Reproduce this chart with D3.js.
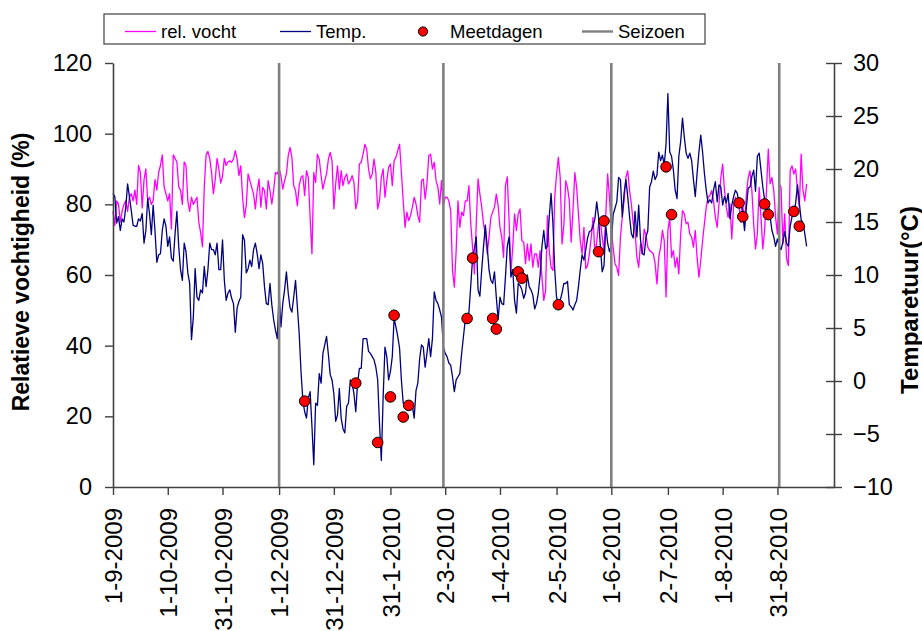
<!DOCTYPE html>
<html>
<head>
<meta charset="utf-8">
<script src="https://cdn.jsdelivr.net/npm/d3@7"></script>
<style>
  body { margin: 0; background: #fff; }
  svg { display: block; }
  text { font-family: "Liberation Sans", Arial, sans-serif; fill: #000; }
</style>
</head>
<body>
<svg id="chart" width="922" height="631"></svg>
<script>
// Daily series start on this date (one value per day)
const startDate = "2009-09-01";

// Relative humidity (%), daily
const relVocht = [
  78,74,81,80,75,78,80,81,78,82,83,81,84,80,91,89,79,87,90,81,
  82,80,81,87,84,89,91,94,85,83,81,83,73,94,93,92,85,84,80,92,
  91,81,78,82,80,81,82,75,72,68,85,94,95,93,89,83,87,93,90,86,
  88,93,91,92,
  92.3,91.9,92.8,95.2,92.8,88.1,90.9,82.0,76.3,79.6,88.6,86.7,84.8,82.9,78.7,83.9,87.2,79.2,84.8,83.9,
  78.7,86.7,83.9,80.1,83.9,89.0,88.6,90.0,88.1,84.3,86.7,88.6,93.8,96.1,93.3,85.3,83.9,79.6,85.3,87.6,
  88.1,82.5,89.5,87.6,76.3,66.0,89.0,86.2,94.2,92.8,88.1,84.3,86.7,88.6,92.8,94.7,92.3,78.7,85.8,90.9,
  84.3,89.5,85.3,87.6,88.6,85.8,
  86.7,88.1,86.2,78.7,81.0,91.4,91.9,94.2,97.0,95.6,90.0,87.2,88.6,92.8,89.0,78.7,81.0,87.6,90.0,82.0,
  86.7,90.5,91.4,85.3,92.3,93.3,95.2,97.0,89.0,81.0,73.5,77.8,75.4,76.8,79.2,82.0,80.1,76.8,74.9,86.7,
  87.2,81.5,85.8,93.8,94.2,90.0,91.9,86.7,84.8,80.1,86.7,79.6,82.0,82.0,81.0,78.2,61.3,56.6,66.9,81.0,
  73.5,77.8,76.8,81.0,81.0,85.3,
  74.5,67.9,60.3,74.5,87.2,82.9,79.2,74.5,71.6,66.0,70.7,76.3,77.8,79.2,82.9,79.6,73.5,70.7,65.0,85.3,
  87.8,75.4,60.8,67.9,77.3,72.6,77.3,78.7,69.7,69.3,63.2,68.8,64.1,68.8,62.2,66.0,66.0,62.2,66.9,59.4,
  52.8,55.6,76.8,66.9,62.2,61.3,82.0,88.6,93.3,87.6,68.8,74.0,86.7,84.8,81.0,69.3,78.2,89.0,84.8,77.3,
  69.7,66.0,73.5,61.8,62.7,66.0,
  70.7,76.3,66.0,69.3,74.5,75.4,70.7,66.9,77.3,88.6,82.0,72.6,67.9,63.2,62.2,59.9,70.7,76.3,81.0,87.6,
  89.5,83.9,80.1,74.5,72.6,65.0,62.2,68.8,66.0,73.0,71.2,67.9,66.9,66.5,66.0,63.2,57.5,65.0,67.9,72.6,
  69.7,53.8,72.6,76.3,65.0,66.9,62.2,65.0,60.3,71.6,78.2,77.3,74.5,74.9,71.6,70.7,67.9,72.6,65.0,59.4,
  64.1,69.7,74.5,79.2,82.0,82.5,
  83.9,81.0,76.3,73.5,80.1,87.6,91.4,83.9,79.2,76.3,80.1,70.2,79.6,82.0,81.0,79.6,74.9,80.1,74.5,82.9,
  87.6,89.5,83.9,74.5,67.4,71.6,84.8,76.3,67.4,72.6,83.9,95.6,85.8,87.6,83.9,76.3,71.6,85.8,84.8,68.8,
  77.3,64.6,62.7,89.5,90.9,88.6,90.0,83.9,79.2,94.2,83.9,81.0,85.8
];

// Temperature (°C), daily
const temp = [
  17.7,17.4,14.9,15.5,14.2,15.3,15.0,16.4,18.6,17.4,16.1,14.7,14.6,14.6,15.3,15.1,15.8,13.0,14.2,17.2,
  15.8,13.8,16.6,14.2,11.2,11.9,12.0,14.2,15.3,14.6,12.7,13.6,11.6,11.3,13.9,16.0,12.7,10.5,9.5,13.0,
  12.2,10.2,9.2,3.9,6.0,10.6,7.9,7.6,8.6,8.3,10.8,8.9,10.5,13.0,12.4,12.4,11.9,13.0,10.5,10.5,
  13.3,9.5,7.6,8.3,
  8.6,7.8,7.3,4.6,6.9,7.5,7.9,13.8,13.3,10.2,10.6,11.4,10.8,12.4,13.0,12.0,10.6,11.9,11.1,8.9,
  7.3,7.2,9.2,7.2,5.8,4.8,4.0,8.3,5.1,7.3,8.6,10.3,8.3,6.9,6.5,7.9,9.5,7.0,4.5,0.9,
  -1.8,-2.9,-3.5,-1.6,-1.0,-4.3,-7.9,-2.1,-2.3,0.7,-0.2,2.6,3.4,4.2,2.5,0.6,0.1,-1.2,-3.8,-3.2,
  -0.7,-3.5,-4.5,-4.9,-2.4,
  -2.1,0.1,-0.2,-1.2,-2.9,-0.2,1.2,1.2,4.0,4.0,4.0,2.8,2.6,2.3,2.0,1.3,0.1,-4.0,-7.5,-1.5,
  3.2,2.3,0.1,0.9,2.3,5.9,5.1,4.2,3.1,0.1,-2.1,-2.3,-1.9,-2.3,-2.0,-2.3,-3.5,-0.9,-0.2,2.1,
  3.4,3.2,1.3,2.6,4.0,2.3,4.0,8.4,7.6,7.3,6.7,6.0,3.2,2.6,2.3,1.7,1.5,0.4,-1.0,0.1,
  0.4,0.7,2.6,4.2,5.8,5.9,6.5,9.0,11.6,12.5,13.6,
  8.6,8.0,10.5,12.7,14.7,12.7,10.5,9.5,
  9.2,10.3,7.9,5.8,7.9,7.3,7.2,9.8,12.7,13.6,9.8,10.5,7.6,6.4,9.2,9.0,8.6,7.8,8.3,10.0,
  8.9,8.6,8.1,6.8,7.3,8.3,10.0,12.7,14.2,12.5,12.7,15.5,17.7,14.9,10.5,7.9,7.3,7.6,8.3,9.2,
  9.2,9.4,7.2,7.0,6.7,7.2,7.6,8.9,10.5,11.9,11.4,12.4,13.5,14.1,
  14.2,
  14.6,15.3,16.9,15.5,12.7,10.3,10.9,14.6,13.0,12.2,12.8,15.7,16.3,16.9,19.2,19.0,15.5,17.7,19.0,17.4,
  15.5,13.9,13.5,16.0,13.6,16.6,13.3,12.0,11.9,13.6,14.2,18.3,18.8,19.8,19.0,19.4,21.6,20.8,21.3,20.4,
  22.4,27.1,21.6,21.2,19.9,18.0,17.2,21.2,22.6,24.8,23.0,21.5,21.0,21.5,20.8,19.0,17.4,19.6,21.6,23.2,
  21.6,19.6,18.0,16.8,17.1,
  16.8,18.0,18.8,16.9,18.5,18.3,16.6,17.4,16.8,17.7,15.3,16.6,17.4,18.0,17.7,16.8,17.1,15.8,14.2,16.4,
  18.2,18.3,19.3,19.9,17.9,21.2,21.5,19.9,18.3,17.1,16.4,16.8,15.5,14.2,13.6,12.7,13.4,12.7,12.4,13.1,
  14.1,13.0,12.7,14.6,15.5,15.8,16.8,18.5,16.8,15.2,14.9,13.9,12.7
];

// Measurement days and the temperature measured on them
const meetDates = [
  "2009-12-15","2010-01-12","2010-01-24","2010-01-31","2010-02-02","2010-02-07","2010-02-10",
  "2010-03-14","2010-03-17","2010-03-28","2010-03-30","2010-04-11","2010-04-13","2010-05-03",
  "2010-05-25","2010-05-28","2010-07-01","2010-07-04","2010-08-10","2010-08-12","2010-08-24",
  "2010-08-26","2010-09-09","2010-09-12"
];
const meetTemps = [
  -1.9,-0.2,-5.8,-1.5,6.2,-3.4,-2.3,
  5.9,11.6,5.9,4.9,10.3,9.7,7.2,
  12.2,15.1,20.2,15.7,16.8,15.5,16.7,
  15.7,16.0,14.6
];

// Season boundaries
const seizoenDates = ["2009-12-01","2010-03-01","2010-06-01","2010-09-01"];

// Axis ticks
const xTickLabels = ["1-9-2009","1-10-2009","31-10-2009","1-12-2009","31-12-2009","31-1-2010",
  "2-3-2010","1-4-2010","2-5-2010","1-6-2010","2-7-2010","1-8-2010","31-8-2010"];
const rhTicks = [0, 20, 40, 60, 80, 100, 120];
const tempTicks = [-10, -5, 0, 5, 10, 15, 20, 25, 30];
const legendLabels = ["rel. vocht", "Temp.", "Meetdagen", "Seizoen"];

const colors = { rh: "#ff00ff", temp: "#000080", dot: "#ff0000", season: "#808080", axis: "#404040" };

const svg = d3.select("#chart");
const plot = { left: 113, right: 834, top: 63, bottom: 487 };

const parseISO = d3.timeParse("%Y-%m-%d");
const parseLabel = d3.timeParse("%d-%m-%Y");
const t0 = parseISO(startDate);
const dayAt = i => d3.timeDay.offset(t0, i);

const x = d3.scaleTime().domain([t0, d3.timeDay.offset(t0, 395)]).range([plot.left, plot.right]);
const yL = d3.scaleLinear().domain([0, 120]).range([plot.bottom, plot.top]);
const yR = d3.scaleLinear().domain([-10, 30]).range([plot.bottom, plot.top]);

svg.append("rect").attr("width", 922).attr("height", 631).attr("fill", "#fff");

// Series lines
const rhLine = d3.line().x((d, i) => x(dayAt(i))).y(d => yL(d));
const tLine = d3.line().x((d, i) => x(dayAt(i))).y(d => yR(d));

svg.append("path").datum(relVocht).attr("d", rhLine)
  .attr("fill", "none").attr("stroke", colors.rh).attr("stroke-width", 1.3).attr("stroke-linejoin", "round");
svg.append("path").datum(temp).attr("d", tLine)
  .attr("fill", "none").attr("stroke", colors.temp).attr("stroke-width", 1.3).attr("stroke-linejoin", "round");

// Season boundary lines
svg.append("g").selectAll("line").data(seizoenDates.map(parseISO)).join("line")
  .attr("x1", d => x(d)).attr("x2", d => x(d))
  .attr("y1", plot.top).attr("y2", plot.bottom)
  .attr("stroke", colors.season).attr("stroke-width", 2.6);

// Axes
const gL = svg.append("g").attr("transform", `translate(${plot.left},0)`)
  .call(d3.axisLeft(yL).tickValues(rhTicks).tickSize(8).tickSizeOuter(0).tickPadding(13));
const gR = svg.append("g").attr("transform", `translate(${plot.right},0)`)
  .call(d3.axisRight(yR).tickValues(tempTicks).tickSize(8).tickSizeOuter(0).tickPadding(11));
gR.selectAll(".tick line").attr("x1", -8).attr("x2", 8);

const labelDates = xTickLabels.map(parseLabel);
const gB = svg.append("g").attr("transform", `translate(0,${plot.bottom})`)
  .call(d3.axisBottom(x).tickValues(labelDates).tickSize(8).tickSizeOuter(0)
    .tickFormat((d, i) => xTickLabels[i]));
gB.selectAll(".tick text")
  .attr("transform", "rotate(-90)")
  .attr("x", -21).attr("y", 0).attr("dy", "0.36em")
  .attr("text-anchor", "end");

[[gL, 23.5], [gR, 23.5], [gB, 24]].forEach(([g, size]) => {
  g.select(".domain").attr("stroke", colors.axis).attr("stroke-width", 1.6);
  g.selectAll(".tick line").attr("stroke", colors.axis).attr("stroke-width", 1.4);
  g.selectAll(".tick text").attr("font-size", size)
    .attr("font-family", '"Liberation Sans", Arial, sans-serif').attr("fill", "#000");
});

// Measurement day markers
svg.append("g").selectAll("circle").data(meetDates.map((d, i) => ({ date: parseISO(d), t: meetTemps[i] })))
  .join("circle")
  .attr("cx", d => x(d.date)).attr("cy", d => yR(d.t)).attr("r", 5.3)
  .attr("fill", colors.dot).attr("stroke", "#000").attr("stroke-width", 1);

// Axis titles
svg.append("text")
  .attr("transform", "translate(29,272) rotate(-90)")
  .attr("text-anchor", "middle").attr("font-size", 23).attr("font-weight", "bold")
  .text("Relatieve vochtigheid (%)");
svg.append("text")
  .attr("transform", "translate(918,300) rotate(-90)")
  .attr("text-anchor", "middle").attr("font-size", 24).attr("font-weight", "bold")
  .text("Temparetuur(°C)");

// Legend
const lg = svg.append("g");
lg.append("rect").attr("x", 104).attr("y", 14).attr("width", 601).attr("height", 30)
  .attr("fill", "#fff").attr("stroke", colors.axis).attr("stroke-width", 1.2);
const legendX = [125, 280, 409, 582];
const legendKinds = ["rh", "temp", "dot", "season"];
legendLabels.forEach((label, i) => {
  const lx = legendX[i], ly = 31.5;
  const kind = legendKinds[i];
  if (kind === "dot") {
    lg.append("circle").attr("cx", lx + 14).attr("cy", ly).attr("r", 4.6)
      .attr("fill", colors.dot).attr("stroke", "#000").attr("stroke-width", 1);
  } else {
    lg.append("line").attr("x1", lx).attr("x2", lx + 31).attr("y1", ly).attr("y2", ly)
      .attr("stroke", colors[kind]).attr("stroke-width", kind === "season" ? 2.4 : 1.3);
  }
  lg.append("text").attr("x", lx + (kind === "dot" ? 41 : 36)).attr("y", ly).attr("dy", "0.36em")
    .attr("font-size", 18.5).text(label);
});
</script>
</body>
</html>
